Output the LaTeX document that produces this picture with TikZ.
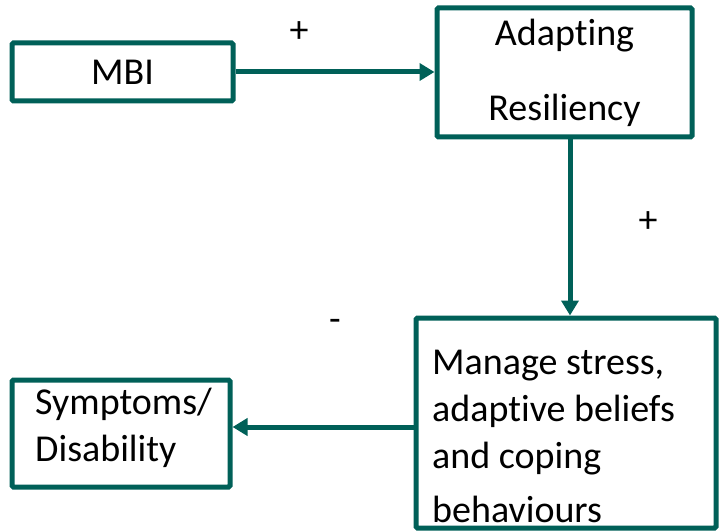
\documentclass[tikz,border=0pt]{standalone}
\usepackage{fontspec}
\setmainfont{Carlito}[Ligatures={NoCommon,NoContextual}]
\usetikzlibrary{arrows.meta,calc}
\definecolor{boxteal}{RGB}{0,96,88}
\begin{document}
\begin{tikzpicture}[x=1pt,y=-1pt,
  every node/.style={font=\fontsize{38}{47}\selectfont, text=black},
  box/.style={draw=boxteal, line width=5pt, rounded corners=1.5pt, fill=white, inner sep=0pt},
  conn/.style={draw=boxteal, line width=5pt, -{Triangle[length=15pt,width=17pt]}},
  txt/.style={inner sep=0pt, align=left}
  ]
\useasboundingbox (0,0) rectangle (720,532);
% boxes
\node[box, minimum width=221pt, minimum height=58pt] (mbi) at (122.5,72) {MBI};
\node[box, minimum width=255pt, minimum height=129pt, align=center] (adapt) at (564.5,72.5) {Adapting\\[28pt]Resiliency};
\node[box, minimum width=300pt, minimum height=210pt] (manage) at (566,423) {};
\node[box, minimum width=218pt, minimum height=107pt] (symp) at (121,433.5) {};
% texts
\node[txt, anchor=west] (mtxt) at (432,436) {Manage stress,\\adaptive beliefs\\and coping\\[7pt]behaviours};
\node[txt, anchor=west] (stxt) at (35,428) {Symptoms/\\Disability};
% connectors
\coordinate (vx) at (570,0);
\coordinate (hy) at (0,427);
\draw[conn] (mbi.east) -- (mbi.east -| adapt.west);
\draw[conn] (adapt.south -| vx) -- (manage.north -| vx);
\draw[conn] (manage.west |- hy) -- (symp.east |- hy);
% signs
\node (p1) at (299,32) {+};
\node (p2) at (648,222) {+};
\node (m1) at (335,325) {-};
\end{tikzpicture}
\end{document}
